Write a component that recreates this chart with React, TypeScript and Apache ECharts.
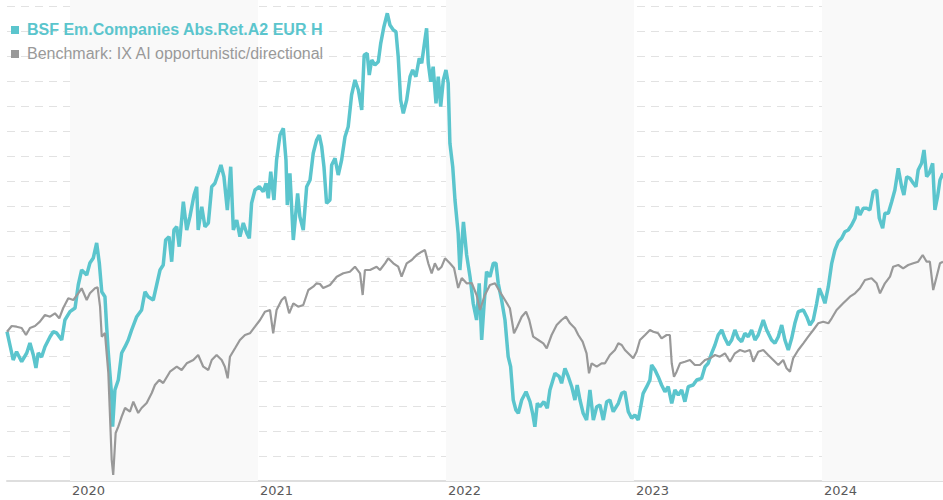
import React, { useEffect, useRef } from "react";
import * as echarts from "echarts";

// Fractional year, index level (start = 100)
const fundSeries: [number, number][] = [
  [2019.665,99.93],[2019.698,97.1],[2019.716,97.93],[2019.743,96.93],[2019.770,97.8],[2019.787,98.8],[2019.805,97.6],[2019.819,96.3],[2019.831,97.8],[2019.849,97.4],[2019.867,98.43],[2019.894,99.43],[2019.911,99.93],[2019.929,99.8],[2019.956,99.1],[2019.973,101.1],
  [2020.000,101.93],[2020.027,102.3],[2020.044,104.6],[2020.062,106.1],[2020.089,105.6],[2020.106,106.8],[2020.124,107.3],[2020.142,108.8],[2020.156,106.8],[2020.169,103.93],[2020.186,103.43],[2020.195,100.43],[2020.204,97.8],[2020.222,93.43],[2020.227,90.43],[2020.239,94.1],[2020.257,95.1],[2020.275,97.8],[2020.293,98.43],[2020.310,99.1],[2020.328,100.1],[2020.355,101.43],[2020.381,102.1],[2020.399,103.93],[2020.416,103.43],[2020.443,103.1],[2020.461,104.6],[2020.479,106.1],[2020.496,106.6],[2020.509,109.1],[2020.527,109.43],[2020.541,106.93],[2020.553,110.1],[2020.568,110.43],[2020.581,108.43],[2020.603,112.93],[2020.621,110.1],[2020.638,111.43],[2020.660,113.6],[2020.674,114.43],[2020.682,110.1],[2020.701,112.43],[2020.718,110.43],[2020.736,110.8],[2020.754,114.43],[2020.771,114.77],[2020.789,115.77],[2020.803,116.6],[2020.819,115.43],[2020.837,112.1],[2020.855,116.43],[2020.869,110.1],[2020.887,111.1],[2020.904,109.43],[2020.922,110.8],[2020.940,109.8],[2020.954,109.27],[2020.966,112.77],[2020.984,114.1],
  [2021.007,114.43],[2021.028,113.93],[2021.043,114.77],[2021.055,113.27],[2021.068,115.93],[2021.085,113.1],[2021.099,117.1],[2021.117,119.6],[2021.135,120.27],[2021.149,117.1],[2021.156,112.6],[2021.170,115.77],[2021.188,109.1],[2021.211,113.77],[2021.223,111.43],[2021.241,110.1],[2021.259,114.43],[2021.277,115.1],[2021.294,117.77],[2021.312,119.1],[2021.326,119.6],[2021.339,118.43],[2021.351,116.43],[2021.365,112.77],[2021.383,113.1],[2021.392,116.6],[2021.410,117.27],[2021.427,115.6],[2021.445,117.1],[2021.463,119.43],[2021.480,120.43],[2021.498,123.6],[2021.516,125.1],[2021.534,124.1],[2021.552,122.1],[2021.565,127.6],[2021.581,127.77],[2021.592,125.6],[2021.605,127.1],[2021.622,126.6],[2021.640,126.93],[2021.653,128.77],[2021.670,130.43],[2021.688,131.77],[2021.702,130.6],[2021.720,130.1],[2021.734,129.93],[2021.746,127.43],[2021.759,123.1],[2021.773,121.77],[2021.791,123.1],[2021.809,125.43],[2021.823,126.1],[2021.840,125.43],[2021.858,127.27],[2021.871,126.77],[2021.888,129.1],[2021.897,130.27],[2021.906,126.77],[2021.919,124.93],[2021.932,126.43],[2021.947,122.77],[2021.959,125.43],[2021.972,122.43],[2021.986,125.1],
  [2022.000,126.1],[2022.012,124.77],[2022.021,118.77],[2022.036,116.43],[2022.048,113.1],[2022.065,109.77],[2022.074,106.1],[2022.093,110.9],[2022.110,107.6],[2022.128,105.43],[2022.145,102.77],[2022.163,101.1],[2022.177,104.77],[2022.190,99.1],[2022.202,102.43],[2022.216,105.93],[2022.234,105.43],[2022.252,106.77],[2022.266,106.77],[2022.278,104.77],[2022.296,103.1],[2022.314,101.1],[2022.331,97.43],[2022.344,96.43],[2022.358,93.1],[2022.372,92.1],[2022.385,91.77],[2022.403,93.1],[2022.426,93.93],[2022.447,92.93],[2022.461,91.77],[2022.473,90.43],[2022.486,92.77],[2022.500,92.43],[2022.521,92.93],[2022.539,92.27],[2022.553,94.1],[2022.580,95.77],[2022.603,95.43],[2022.615,94.77],[2022.633,96.27],[2022.651,95.43],[2022.669,94.43],[2022.686,93.1],[2022.698,94.6],[2022.713,93.1],[2022.730,91.77],[2022.748,91.1],[2022.766,94.1],[2022.784,91.1],[2022.802,92.43],[2022.819,92.6],[2022.837,91.1],[2022.855,92.93],[2022.872,93.1],[2022.890,91.93],[2022.917,92.77],[2022.935,93.77],[2022.952,93.93],[2022.970,91.93],[2022.988,91.27],
  [2023.005,91.6],[2023.023,91.1],[2023.036,92.43],[2023.049,93.77],[2023.068,94.43],[2023.085,95.1],[2023.094,96.6],[2023.112,96.1],[2023.129,95.43],[2023.147,94.6],[2023.165,93.93],[2023.182,94.43],[2023.201,92.77],[2023.218,94.1],[2023.236,93.6],[2023.254,94.1],[2023.271,92.93],[2023.289,94.43],[2023.315,94.6],[2023.334,95.1],[2023.360,95.27],[2023.378,96.43],[2023.395,96.77],[2023.413,97.77],[2023.431,98.6],[2023.448,99.6],[2023.467,100.1],[2023.484,99.27],[2023.502,98.6],[2023.520,99.1],[2023.537,100.1],[2023.555,99.27],[2023.573,98.93],[2023.590,99.77],[2023.608,99.43],[2023.626,100.1],[2023.644,99.1],[2023.661,99.6],[2023.688,101.1],[2023.706,100.1],[2023.732,99.1],[2023.750,98.77],[2023.768,99.43],[2023.786,100.6],[2023.803,99.1],[2023.821,98.1],[2023.839,99.27],[2023.856,100.77],[2023.874,101.93],[2023.901,102.1],[2023.919,101.43],[2023.936,100.6],[2023.954,101.1],[2023.972,102.77],[2023.986,104.27],
  [2024.004,103.43],[2024.016,102.77],[2024.034,104.43],[2024.052,106.77],[2024.069,108.1],[2024.087,108.93],[2024.105,109.27],[2024.122,109.93],[2024.140,110.1],[2024.158,110.6],[2024.176,111.27],[2024.188,112.43],[2024.202,111.6],[2024.220,112.27],[2024.238,112.27],[2024.255,112.1],[2024.273,113.93],[2024.291,114.1],[2024.305,111.27],[2024.323,110.27],[2024.335,111.77],[2024.353,111.77],[2024.371,112.93],[2024.388,114.1],[2024.406,116.27],[2024.424,114.43],[2024.436,113.6],[2024.451,115.43],[2024.468,115.27],[2024.486,114.77],[2024.500,114.43],[2024.512,116.1],[2024.530,116.77],[2024.543,118.1],[2024.557,115.43],[2024.571,115.77],[2024.589,116.77],[2024.601,112.1],[2024.615,113.43],[2024.628,115.1],[2024.644,115.77]
];

const benchmarkSeries: [number, number][] = [
  [2019.665,99.93],[2019.690,100.5],[2019.716,100.43],[2019.743,100.3],[2019.766,99.6],[2019.787,100.3],[2019.814,100.5],[2019.840,100.93],[2019.867,101.6],[2019.894,101.43],[2019.920,101.77],[2019.943,101.27],[2019.964,102.3],[2019.991,103.27],
  [2020.018,103.1],[2020.044,103.77],[2020.062,104.27],[2020.089,103.1],[2020.106,103.77],[2020.133,104.27],[2020.147,104.37],[2020.160,102.43],[2020.169,99.43],[2020.186,99.8],[2020.204,95.8],[2020.222,87.1],[2020.230,85.6],[2020.243,89.8],[2020.257,90.43],[2020.275,91.43],[2020.293,92.3],[2020.319,91.93],[2020.337,92.93],[2020.363,91.8],[2020.381,92.3],[2020.408,92.8],[2020.435,93.8],[2020.452,94.6],[2020.475,95.1],[2020.496,94.8],[2020.532,95.93],[2020.568,96.43],[2020.594,96.1],[2020.621,96.77],[2020.656,97.1],[2020.682,97.6],[2020.709,96.43],[2020.736,96.1],[2020.754,97.1],[2020.780,97.6],[2020.807,97.1],[2020.824,96.43],[2020.839,95.27],[2020.851,97.43],[2020.878,98.27],[2020.904,99.1],[2020.931,99.6],[2020.957,99.77],[2020.984,100.43],
  [2021.011,101.1],[2021.037,101.93],[2021.064,102.1],[2021.081,99.77],[2021.099,102.1],[2021.126,103.1],[2021.144,103.43],[2021.166,101.77],[2021.188,102.77],[2021.214,102.43],[2021.241,102.6],[2021.268,104.1],[2021.294,104.43],[2021.312,104.77],[2021.330,104.7],[2021.347,104.3],[2021.383,104.6],[2021.419,105.43],[2021.454,105.77],[2021.489,105.93],[2021.516,106.43],[2021.543,105.77],[2021.557,103.6],[2021.569,106.1],[2021.596,106.1],[2021.631,106.43],[2021.649,106.1],[2021.676,106.77],[2021.693,107.27],[2021.720,106.77],[2021.746,106.43],[2021.764,105.43],[2021.791,106.77],[2021.818,107.1],[2021.844,107.6],[2021.871,107.93],[2021.888,108.1],[2021.906,106.77],[2021.924,105.77],[2021.941,106.77],[2021.959,106.1],[2021.977,106.43],[2021.995,107.27],
  [2022.021,106.77],[2022.043,106.3],[2022.065,104.3],[2022.084,105.3],[2022.110,104.77],[2022.137,104.8],[2022.163,103.6],[2022.181,102.1],[2022.207,103.6],[2022.234,104.6],[2022.261,104.77],[2022.287,103.93],[2022.314,103.1],[2022.340,102.27],[2022.362,99.77],[2022.379,100.43],[2022.403,101.43],[2022.426,101.93],[2022.443,101.1],[2022.464,99.43],[2022.491,99.1],[2022.518,98.77],[2022.536,98.27],[2022.562,99.6],[2022.589,100.6],[2022.615,101.1],[2022.638,101.43],[2022.660,100.77],[2022.686,100.27],[2022.704,99.6],[2022.727,98.93],[2022.748,97.77],[2022.761,95.77],[2022.775,96.77],[2022.802,96.43],[2022.828,96.77],[2022.846,96.77],[2022.872,97.6],[2022.899,98.1],[2022.917,98.77],[2022.935,98.6],[2022.952,98.1],[2022.979,97.6],[2022.996,97.27],
  [2023.014,97.93],[2023.032,99.1],[2023.059,99.6],[2023.085,100.1],[2023.103,99.93],[2023.129,99.77],[2023.147,99.27],[2023.174,99.6],[2023.191,99.6],[2023.201,96.77],[2023.213,95.43],[2023.227,95.93],[2023.245,96.77],[2023.271,96.93],[2023.298,97.1],[2023.324,96.6],[2023.351,96.6],[2023.378,97.1],[2023.404,97.27],[2023.431,97.6],[2023.457,97.43],[2023.484,97.77],[2023.511,96.93],[2023.537,97.77],[2023.564,98.1],[2023.590,97.93],[2023.617,98.1],[2023.635,96.93],[2023.661,97.93],[2023.688,98.1],[2023.714,97.6],[2023.741,97.1],[2023.768,96.6],[2023.794,97.1],[2023.812,96.27],[2023.830,95.93],[2023.847,97.27],[2023.874,98.1],[2023.901,98.77],[2023.927,99.43],[2023.954,100.1],[2023.980,100.77],
  [2024.007,100.93],[2024.034,100.77],[2024.052,101.27],[2024.078,102.1],[2024.113,102.77],[2024.149,103.43],[2024.176,103.77],[2024.202,104.27],[2024.229,105.1],[2024.264,105.27],[2024.291,104.77],[2024.309,103.77],[2024.335,104.77],[2024.362,105.43],[2024.379,106.43],[2024.406,106.6],[2024.432,106.27],[2024.459,106.6],[2024.486,106.77],[2024.512,106.93],[2024.536,107.6],[2024.557,106.93],[2024.574,106.93],[2024.592,104.1],[2024.610,105.43],[2024.628,106.77],[2024.644,106.93]
];

const yearTicks = [2020, 2021, 2022, 2023, 2024];
const shadedYears: [number, number][] = [[2020, 2021], [2022, 2023], [2024, 2025]];
const seriesNames = ["BSF Em.Companies Abs.Ret.A2 EUR H", "Benchmark: IX AI opportunistic/directional"];

const TEAL = "#5bc5cd";
const GREY = "#999999";

export default function App() {
  const ref = useRef<HTMLDivElement>(null);
  useEffect(() => {
    document.body.style.margin = "0";
    const chart = echarts.init(ref.current!, null, { renderer: "svg" });
    chart.setOption({
      animation: false,
      backgroundColor: "#ffffff",
      grid: { left: 7, right: 0, top: 0, bottom: 19, containLabel: false, outerBoundsMode: "none" },
      xAxis: {
        type: "value",
        min: 2019.665,
        max: 2024.644,
        axisLine: { show: true, lineStyle: { color: "#dedede", width: 2 } },
        axisTick: { show: false },
        splitLine: { show: false },
        axisLabel: {
          customValues: yearTicks,
          formatter: (v: number) => String(Math.round(v)),
          align: "left",
          margin: 3,
          padding: [0, 0, 0, 2],
          color: "#5a5a5a",
          fontSize: 13,
          fontFamily: "DejaVu Sans",
        },
      },
      yAxis: {
        type: "value",
        min: 85,
        max: 133.1,
        interval: 2.5,
        axisLine: { show: false },
        axisTick: { show: false },
        axisLabel: { show: false },
        splitLine: { show: true, showMaxLine: false, lineStyle: { color: "#e2e2e2", type: [8, 6], width: 1 } },
      },
      graphic: [
        { type: "rect", shape: { x: 11, y: 26, width: 8, height: 8 }, style: { fill: TEAL }, z: 10 },
        { type: "text", x: 27, y: 29.5, style: { text: seriesNames[0], fill: TEAL, font: "bold 16px 'Liberation Sans', Arial, sans-serif", verticalAlign: "middle" }, z: 10 },
        { type: "rect", shape: { x: 11, y: 50, width: 8, height: 8 }, style: { fill: GREY }, z: 10 },
        { type: "text", x: 27, y: 53.5, style: { text: seriesNames[1], fill: GREY, font: "16px 'Liberation Sans', Arial, sans-serif", verticalAlign: "middle" }, z: 10 },
      ],
      series: [
        {
          name: seriesNames[0],
          type: "line",
          data: fundSeries,
          showSymbol: false,
          symbol: "none",
          lineStyle: { color: TEAL, width: 3.5 },
          z: 3,
          markArea: {
            silent: true,
            itemStyle: { color: "#f9f9f9" },
            data: shadedYears.map(([a, b]) => [{ xAxis: a }, { xAxis: b }]),
          },
        },
        {
          name: seriesNames[1],
          type: "line",
          data: benchmarkSeries,
          showSymbol: false,
          symbol: "none",
          lineStyle: { color: GREY, width: 2.2 },
          z: 4,
        },
      ],
    });
    return () => chart.dispose();
  }, []);
  return <div ref={ref} style={{ position: "absolute", left: 0, top: 0, width: 943, height: 500 }} />;
}
